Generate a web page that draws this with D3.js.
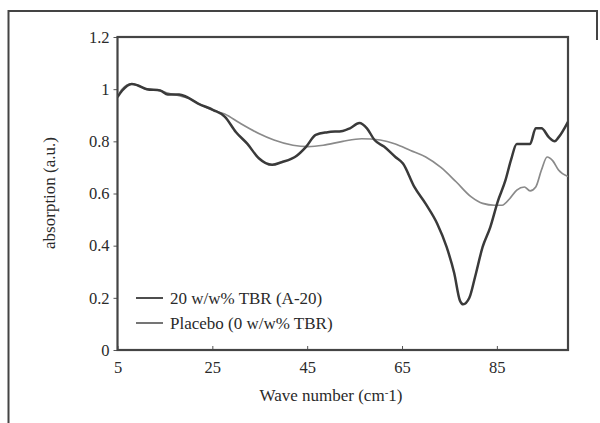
<!DOCTYPE html>
<html><head><meta charset="utf-8">
<script src="https://cdn.jsdelivr.net/npm/d3@7"></script>
<style>body{margin:0;background:#fff}svg{display:block}</style>
</head><body>
<svg id="c" width="600" height="423"></svg>
<script>
const xTicks = [5, 25, 45, 65, 85];
const yTicks = [0, 0.2, 0.4, 0.6, 0.8, 1, 1.2];
const seriesNames = ["20 w/w% TBR (A-20)", "Placebo (0 w/w% TBR)"];
const a20X = [5,6,8,9.2,11.2,14,15.6,18,19.6,22,25.2,27.6,30,32.4,34.8,37.6,39.6,42.8,44.8,46.8,49.3,52.5,54,56,57.6,59.2,61.2,63.6,65.2,67.6,70,72.4,74.4,76,77.2,77.9,79.2,80.4,82,83.6,85.2,86.8,88,89.2,92,93.2,94.4,96,97.2,98,100];
const a20Y = [0.97,0.995,1.02,1.015,1.0,0.995,0.98,0.98,0.97,0.945,0.92,0.895,0.835,0.79,0.735,0.71,0.72,0.745,0.78,0.825,0.835,0.84,0.85,0.87,0.85,0.805,0.78,0.74,0.715,0.625,0.56,0.485,0.395,0.295,0.19,0.175,0.2,0.28,0.395,0.47,0.57,0.65,0.73,0.79,0.79,0.85,0.85,0.815,0.8,0.815,0.875];
const plX = [5,6,8,9.2,11,14,15.6,18,20,22,25,27.6,30.8,34.8,38,42,45.2,48.4,52.5,56.5,60.4,63.6,66.8,70,73.2,76.4,79.6,82,84.5,86.1,87.7,89.2,90.8,92,93.2,94.4,95.6,96.8,98,100];
const plY = [0.97,1.0,1.02,1.015,1.0,0.995,0.985,0.975,0.965,0.945,0.92,0.905,0.87,0.83,0.805,0.785,0.78,0.785,0.80,0.81,0.805,0.79,0.765,0.74,0.70,0.645,0.587,0.562,0.555,0.555,0.58,0.613,0.625,0.61,0.625,0.69,0.74,0.725,0.69,0.665];

const svg = d3.select("#c");
const L = 117.5, R = 568, T = 37, B = 350;
const x = d3.scaleLinear().domain([5, 100]).range([L, R]);
const y = d3.scaleLinear().domain([0, 1.2]).range([B, T]);
const font = "'Liberation Serif', 'DejaVu Serif', serif";

// outer frame
svg.append("path").attr("d", "M8.5,423 L8.5,11 L597,11 L597,40")
  .attr("fill", "none").attr("stroke", "#444").attr("stroke-width", 2);

// axes
const xa = svg.append("g").attr("transform", `translate(0,${B})`)
  .call(d3.axisBottom(x).tickValues(xTicks).tickSizeInner(-4).tickSizeOuter(0).tickPadding(11).tickFormat(d3.format("d")));
const ya = svg.append("g").attr("transform", `translate(${L},0)`)
  .call(d3.axisLeft(y).tickValues(yTicks).tickSizeInner(4).tickSizeOuter(0).tickPadding(4).tickFormat(d => d === 0 ? "0" : d3.format("")(+d.toFixed(1))));
[xa, ya].forEach(g => {
  g.select(".domain").remove();
  g.selectAll("line").attr("stroke", "#555").attr("stroke-width", 1);
  g.selectAll("text").attr("font-family", font).attr("font-size", 16.5).attr("fill", "#2a2a2a");
});

// plot box
svg.append("rect").attr("x", L).attr("y", T).attr("width", R - L).attr("height", B - T)
  .attr("fill", "none").attr("stroke", "#444").attr("stroke-width", 2.2);

const line = d3.line().x(d => x(d[0])).y(d => y(d[1])).curve(d3.curveMonotoneX);
svg.append("clipPath").attr("id", "cp").append("rect").attr("x", L).attr("y", T).attr("width", R - L).attr("height", B - T);
const plot = svg.append("g").attr("clip-path", "url(#cp)");
plot.append("path").datum(plX.map((v, i) => [v, plY[i]])).attr("d", line)
  .attr("fill", "none").attr("stroke", "#8a8a8a").attr("stroke-width", 1.7);
plot.append("path").datum(a20X.map((v, i) => [v, a20Y[i]])).attr("d", line)
  .attr("fill", "none").attr("stroke", "#3a3a3a").attr("stroke-width", 2.5);

// legend
const leg = svg.append("g");
const legColors = ["#3a3a3a", "#666"];
seriesNames.forEach((n, i) => {
  const yy = 298 + i * 25;
  leg.append("line").attr("x1", 136).attr("x2", 163).attr("y1", yy).attr("y2", yy)
    .attr("stroke", legColors[i]).attr("stroke-width", 1.8);
  leg.append("text").attr("x", 170).attr("y", yy + 5.5).text(n)
    .attr("font-family", font).attr("font-size", 17).attr("fill", "#2a2a2a");
});

// axis titles
const xt = svg.append("text").attr("x", 331).attr("y", 401).attr("text-anchor", "middle")
  .attr("font-family", font).attr("font-size", 17).attr("fill", "#2a2a2a");
xt.append("tspan").text("Wave number (cm");
xt.append("tspan").text("-").attr("dy", -5).attr("font-size", 11);
xt.append("tspan").text("1)").attr("dy", 5);
svg.append("text").attr("transform", "translate(55,193) rotate(-90)").attr("text-anchor", "middle")
  .attr("font-family", font).attr("font-size", 17).attr("fill", "#2a2a2a").text("absorption (a.u.)");
</script>
</body></html>
